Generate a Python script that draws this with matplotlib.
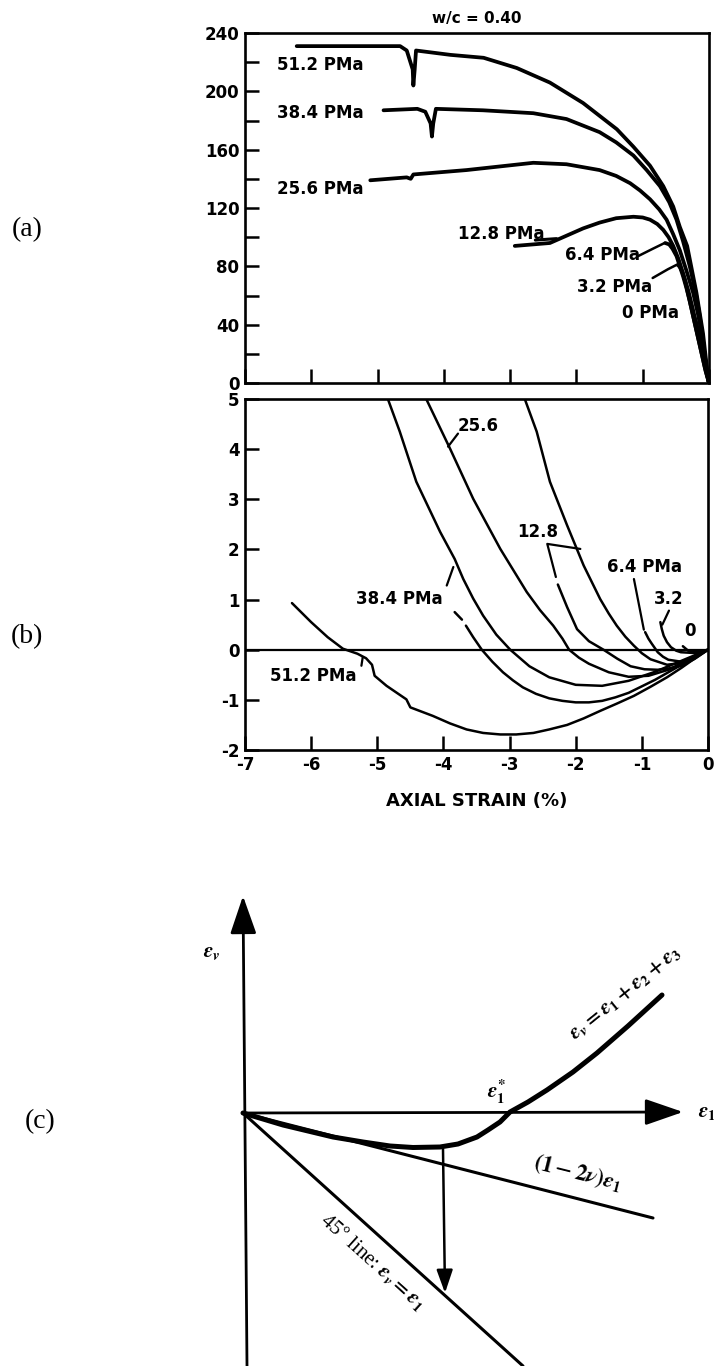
# %%
import matplotlib

matplotlib.use("Agg")
import matplotlib.pyplot as plt

plt.rcParams["font.family"] = ["DejaVu Sans"]
plt.rcParams["font.weight"] = "bold"
plt.rcParams["axes.unicode_minus"] = False
plt.rcParams["mathtext.fontset"] = "stix"
plt.rcParams["lines.solid_joinstyle"] = "round"
plt.rcParams["lines.solid_capstyle"] = "round"

W, H = 714, 1366

# ---- (a) stress vs axial strain, one curve per confining pressure
A_X_512 = [-6.22, -4.66, -4.56, -4.47, -4.46, -4.44, -4.42, -3.90, -3.40, -2.90,
           -2.40, -1.90, -1.39, -1.14, -0.89, -0.69, -0.54, -0.44, -0.33, -0.26,
           -0.19, -0.14, -0.09, -0.03, 0.0]
A_Y_512 = [231, 231, 228, 215, 204, 215, 228, 225, 223, 216,
           206, 192, 174, 162, 149, 135, 121, 107, 94, 78,
           62, 48, 34, 10, 0]
A_X_384 = [-4.91, -4.40, -4.28, -4.20, -4.18, -4.16, -4.12, -3.41, -2.65, -2.15,
           -1.65, -1.40, -1.14, -0.94, -0.74, -0.60, -0.49, -0.39, -0.29, -0.20,
           -0.14, -0.04, 0.0]
A_Y_384 = [187, 188, 186, 178, 169, 178, 188, 187, 185, 181,
           172, 165, 156, 146, 135, 124, 112, 97, 80, 62,
           46, 10, 0]
A_X_256 = [-5.11, -4.56, -4.50, -4.46, -3.66, -2.65, -2.15, -1.65, -1.40, -1.19,
           -1.04, -0.89, -0.75, -0.64, -0.54, -0.44, -0.34, -0.24, -0.17, -0.11,
           -0.03, 0.0]
A_Y_256 = [139, 141, 140, 143, 146, 151, 150, 146, 142, 137,
           132, 126, 119, 112, 102, 91, 77, 62, 48, 34,
           8, 0]
A_X_128 = [-2.93, -2.40, -2.15, -1.90, -1.65, -1.40, -1.14, -1.00, -0.89, -0.78,
           -0.69, -0.61, -0.54, -0.46, -0.39, -0.31, -0.24, -0.17, -0.11, -0.05, 0.0]
A_Y_128 = [94, 96, 101, 106, 110, 113, 114, 113.5, 112, 109,
           105, 100, 94, 85, 75, 63, 50, 36, 23, 10, 0]
A_X_64 = [-0.66, -0.60, -0.55, -0.49, -0.44, -0.39, -0.34, -0.29, -0.24, -0.18, -0.12, -0.06, 0.0]
A_Y_64 = [96, 95, 92, 87, 80, 73, 65, 56, 46, 34, 22, 10, 0]
A_X_32 = [-0.47, -0.44, -0.40, -0.36, -0.32, -0.27, -0.22, -0.16, -0.10, -0.05, 0.0]
A_Y_32 = [81, 79.5, 76, 70, 62, 52, 42, 30, 18, 8, 0]
A_X_0 = [-0.22, -0.19, -0.16, -0.12, -0.08, -0.04, 0.0]
A_Y_0 = [45, 41, 35, 27, 18, 9, 0]

A_LABELS = ["51.2 PMa", "38.4 PMa", "25.6 PMa", "12.8 PMa", "6.4 PMa", "3.2 PMa", "0 PMa"]
A_LABEL_X = [-5.87, -5.87, -5.87, -3.13, -1.61, -1.42, -0.89]
A_LABEL_Y = [218, 185, 133, 102, 88, 66, 48]

# ---- (b) volumetric strain vs axial strain
B_X_512 = [-6.29, -6.00, -5.75, -5.52, -5.30, -5.17, -5.08, -5.04, -4.86, -4.56, -4.50,
           -4.16, -3.90, -3.65, -3.40, -3.14, -2.90, -2.64, -2.40, -2.13, -1.88, -1.63,
           -1.37, -1.12, -0.87, -0.62, -0.40, -0.25, 0.0]
B_Y_512 = [0.93, 0.55, 0.25, 0.02, -0.08, -0.17, -0.30, -0.52, -0.72, -0.99, -1.15,
           -1.32, -1.47, -1.59, -1.66, -1.69, -1.69, -1.66, -1.59, -1.50, -1.37, -1.22,
           -1.07, -0.92, -0.74, -0.55, -0.36, -0.22, 0.0]
B_X_384 = [-4.84, -4.66, -4.41, -4.05, -3.83, -3.70, -3.55, -3.40, -3.20, -2.99, -2.70,
           -2.40, -2.00, -1.60, -1.20, -0.80, -0.40, 0.0]
B_Y_384 = [5.0, 4.35, 3.35, 2.35, 1.81, 1.41, 1.02, 0.68, 0.30, 0.0, -0.33,
           -0.55, -0.70, -0.72, -0.62, -0.44, -0.22, 0.0]
B_X_384_DASH = [-3.83, -3.72]
B_Y_384_DASH = [0.75, 0.60]
B_X_384_LOW = [-3.66, -3.55, -3.42, -3.26, -3.10, -2.95, -2.80, -2.60, -2.40, -2.20,
               -2.00, -1.80, -1.60, -1.40, -1.20, -0.80, -0.40, 0.0]
B_Y_384_LOW = [0.48, 0.25, 0.0, -0.24, -0.45, -0.61, -0.75, -0.88, -0.97, -1.02,
               -1.05, -1.05, -1.02, -0.95, -0.86, -0.60, -0.30, 0.0]
B_X_256 = [-4.26, -3.90, -3.55, -3.14, -2.74, -2.54, -2.34, -2.20, -2.10, -1.95, -1.80,
           -1.50, -1.20, -0.90, -0.60, -0.30, 0.0]
B_Y_256 = [5.0, 4.01, 3.01, 2.01, 1.15, 0.79, 0.48, 0.22, 0.0, -0.16, -0.28,
           -0.45, -0.54, -0.52, -0.40, -0.20, 0.0]
B_X_128 = [-2.77, -2.59, -2.39, -2.13, -1.88, -1.63, -1.50, -1.38, -1.25, -1.12, -1.00,
           -0.87, -0.62, -0.37, 0.0]
B_Y_128 = [5.0, 4.35, 3.35, 2.48, 1.68, 1.01, 0.72, 0.48, 0.26, 0.08, -0.07,
           -0.19, -0.30, -0.26, 0.0]
B_X_128_LOW = [-2.27, -2.13, -1.98, -1.80, -1.58, -1.37, -1.17, -0.96, -0.76, -0.58,
               -0.40, -0.20, 0.0]
B_Y_128_LOW = [1.30, 0.85, 0.41, 0.17, 0.0, -0.18, -0.33, -0.39, -0.40, -0.37,
               -0.32, -0.18, 0.0]
B_X_64 = [-0.95, -0.90, -0.85, -0.76, -0.68, -0.60, -0.40, -0.20, 0.0]
B_Y_64 = [0.35, 0.22, 0.12, -0.05, -0.14, -0.20, -0.24, -0.14, 0.0]
B_X_32 = [-0.72, -0.70, -0.67, -0.62, -0.56, -0.48, -0.41, -0.16, 0.0]
B_Y_32 = [0.55, 0.42, 0.28, 0.15, 0.05, -0.02, -0.05, -0.07, 0.0]
B_X_0 = [-0.38, -0.30, -0.20, -0.10, 0.0]
B_Y_0 = [0.07, -0.02, -0.05, -0.03, 0.0]

B_LABELS = ["25.6", "12.8", "6.4 PMa", "3.2", "0", "38.4 PMa", "51.2 PMa"]
B_LABEL_X = [-3.47, -2.58, -0.96, -0.59, -0.27, -4.66, -5.97]
B_LABEL_Y = [4.47, 2.35, 1.65, 1.01, 0.38, 1.01, -0.52]

# ---- (c) schematic: volumetric strain curve and reference lines
C_E1 = [0.0, 0.20, 0.40, 0.65, 0.90, 1.20, 1.47, 1.70, 1.97, 2.15, 2.34, 2.45, 2.57,
        2.67, 2.85, 3.04, 3.30, 3.54, 3.85, 4.19]
C_EV = [0.0, -0.06, -0.12, -0.18, -0.24, -0.29, -0.33, -0.345, -0.34, -0.31, -0.24,
        -0.17, -0.09, 0.01, 0.11, 0.23, 0.41, 0.60, 0.87, 1.18]
C_TANGENT_X = [0.0, 4.10]
C_TANGENT_Y = [0.0, -1.05]
C_LINE45_X = [0.0, 2.80]
C_LINE45_Y = [0.0, -2.53]


def px_box(left, top, right, bottom):
    return [left / W, 1 - bottom / H, (right - left) / W, (bottom - top) / H]


def style_box(ax):
    for s in ax.spines.values():
        s.set_linewidth(1.9)
    ax.tick_params(which="both", direction="in", length=10, width=1.8,
                   top=False, right=False, labelsize=12, pad=4)


def panel_a(ax):
    curves = [(A_X_512, A_Y_512), (A_X_384, A_Y_384), (A_X_256, A_Y_256),
              (A_X_128, A_Y_128), (A_X_64, A_Y_64), (A_X_32, A_Y_32), (A_X_0, A_Y_0)]
    for x, y in curves:
        ax.plot(x, y, color="black", lw=2.7)
    for t, x, y in zip(A_LABELS, A_LABEL_X, A_LABEL_Y):
        ax.text(x, y, t, ha="center", va="center", fontsize=12, fontweight="bold")
    # leaders
    ax.plot([-2.62, -2.30], [98, 99], color="black", lw=2.2)
    ax.plot([-1.07, -0.85, -0.67], [87, 92, 96], color="black", lw=1.8)
    ax.plot([-0.85, -0.62, -0.49], [72, 78, 81], color="black", lw=1.8)
    ax.set_xlim(-7, 0)
    ax.set_ylim(0, 240)
    ax.set_yticks(range(0, 241, 40))
    ax.set_yticks(range(20, 240, 40), minor=True)
    ax.set_xticks(range(-7, 1))
    style_box(ax)
    ax.tick_params(labelbottom=False)
    ax.set_title("w/c = 0.40", fontsize=11, fontweight="bold", pad=7)


def panel_b(ax):
    ax.axhline(0, color="black", lw=1.6)
    curves = [(B_X_512, B_Y_512), (B_X_384, B_Y_384), (B_X_384_DASH, B_Y_384_DASH),
              (B_X_384_LOW, B_Y_384_LOW), (B_X_256, B_Y_256), (B_X_128, B_Y_128),
              (B_X_128_LOW, B_Y_128_LOW), (B_X_64, B_Y_64), (B_X_32, B_Y_32), (B_X_0, B_Y_0)]
    for x, y in curves:
        ax.plot(x, y, color="black", lw=1.8)
    for t, x, y in zip(B_LABELS, B_LABEL_X, B_LABEL_Y):
        ax.text(x, y, t, ha="center", va="center", fontsize=12, fontweight="bold")
    leaders = [([-3.78, -3.93], [4.31, 4.05]),
               ([-1.93, -2.43, -2.30], [2.01, 2.11, 1.45]),
               ([-1.12, -0.97], [1.41, 0.40]),
               ([-0.59, -0.69], [0.78, 0.50]),
               ([-3.95, -3.85], [1.28, 1.65]),
               ([-5.24, -5.22], [-0.32, -0.15])]
    for x, y in leaders:
        ax.plot(x, y, color="black", lw=1.6)
    ax.set_xlim(-7, 0)
    ax.set_ylim(-2, 5)
    ax.set_xticks(range(-7, 1))
    ax.set_yticks(range(-2, 6))
    style_box(ax)
    ax.set_xlabel("AXIAL STRAIN (%)", fontsize=13, fontweight="bold", labelpad=13)


def panel_c(ax):
    ax.set_xlim(-2.43, 4.71)
    ax.set_ylim(-2.53, 2.53)
    ax.axis("off")
    big = dict(arrowstyle="-|>,head_length=1.3,head_width=0.45", color="black",
               lw=2.0, mutation_scale=18, shrinkA=0, shrinkB=0)
    ax.annotate("", xy=(0.0, 2.17), xytext=(0.04, -2.53), arrowprops=big)
    ax.annotate("", xy=(4.40, 0.01), xytext=(0.0, 0.0), arrowprops=big)
    ax.plot(C_E1, C_EV, color="black", lw=3.6)
    ax.plot(C_TANGENT_X, C_TANGENT_Y, color="black", lw=2.2)
    ax.plot(C_LINE45_X, C_LINE45_Y, color="black", lw=2.2)
    small = dict(arrowstyle="-|>,head_length=1.0,head_width=0.35", color="black",
                 lw=1.8, mutation_scale=14, shrinkA=0, shrinkB=0)
    ax.annotate("", xy=(2.02, -1.80), xytext=(2.00, -0.36), arrowprops=small)

    serif = ["Liberation Serif", "DejaVu Serif"]
    plain = dict(family=serif, fontweight="normal", va="center")
    ax.text(-0.31, 1.61, r"$\epsilon_v$", fontsize=15, ha="center", **plain)
    ax.text(4.55, 0.0, r"$\epsilon_1$", fontsize=15, ha="left", **plain)
    ax.text(2.54, 0.21, r"$\epsilon_1^{*}$", fontsize=15, ha="center", **plain)
    ax.text(3.82, 1.20, r"$\epsilon_v = \epsilon_1 + \epsilon_2 + \epsilon_3$",
            fontsize=15, ha="center", rotation=39, **plain)
    ax.text(1.30, -1.49, r"45$\degree$ line: $\epsilon_v = \epsilon_1$",
            fontsize=15, ha="center", rotation=-42, **plain)
    ax.text(3.35, -0.60, r"$(1 - 2\nu)\epsilon_1$", fontsize=16,
            ha="center", rotation=-14, **plain)
    ax.text(-2.03, -0.09, "(c)", fontsize=20, ha="center", **plain)


def main():
    fig = plt.figure(figsize=(W / 100, H / 100), dpi=100)
    ax_a = fig.add_axes(px_box(245, 33, 709, 383))
    ax_b = fig.add_axes(px_box(245, 399, 708, 750))
    ax_c = fig.add_axes(px_box(0, 860, 714, 1366))
    panel_a(ax_a)
    panel_b(ax_b)
    panel_c(ax_c)
    serif = ["Liberation Serif", "DejaVu Serif"]
    fig.text(27 / W, 1 - 230 / H, "(a)", fontsize=20, ha="center", va="center",
             family=serif, fontweight="normal")
    fig.text(27 / W, 1 - 637 / H, "(b)", fontsize=20, ha="center", va="center",
             family=serif, fontweight="normal")
    fig.savefig("out.png", dpi=100)


if __name__ == "__main__":
    main()

# %%
